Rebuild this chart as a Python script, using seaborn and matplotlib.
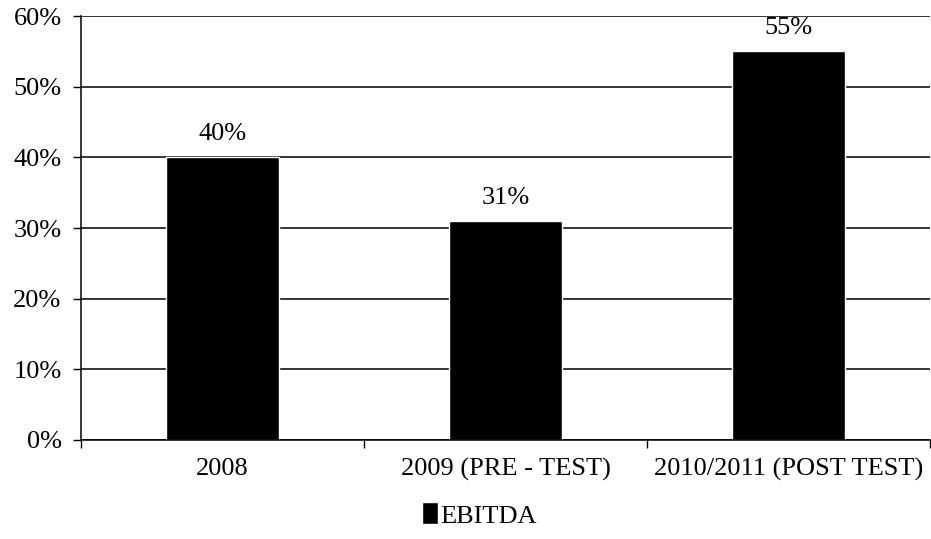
import matplotlib
matplotlib.use("Agg")
import matplotlib.pyplot as plt
import seaborn as sns
import pandas as pd
from matplotlib.ticker import FixedLocator, PercentFormatter

categories = ["2008", "2009 (PRE - TEST)", "2010/2011 (POST TEST)"]
ebitda = [40, 31, 55]
series_name = "EBITDA"
y_ticks = [0, 10, 20, 30, 40, 50, 60]

df = pd.DataFrame({"period": categories, "value": ebitda, "series": series_name})

sns.set_theme(style="white")
plt.rcParams["font.family"] = ["Liberation Serif", "DejaVu Serif"]
FS = 19

fig = plt.figure(figsize=(9.31, 5.39), dpi=100)
ax = fig.add_axes([0.087, 0.1837, 0.912, 0.7863])

sns.barplot(data=df, x="period", y="value", hue="series", palette=["black"],
            width=0.4, ax=ax, legend=True, saturation=1)

ax.set_ylim(0, 60)
ax.set_xlim(-0.5, 2.5)
ax.set_yticks(y_ticks)
ax.yaxis.set_major_formatter(PercentFormatter(decimals=0))
ax.yaxis.grid(True, color="black", linewidth=1.1)
ax.set_axisbelow(True)

for s in ["top", "right"]:
    ax.spines[s].set_visible(False)
for s in ["left", "bottom"]:
    ax.spines[s].set_color("black")
    ax.spines[s].set_linewidth(1.1)

ax.set_xlabel("")
ax.set_ylabel("")
ax.tick_params(axis="y", which="major", direction="out", length=6, width=1,
               color="black", labelsize=FS, pad=8, left=True, labelcolor="black")
ax.tick_params(axis="x", which="major", length=0, labelsize=FS, pad=13,
               labelcolor="black")
ax.xaxis.set_minor_locator(FixedLocator([-0.5, 0.5, 1.5, 2.5]))
ax.tick_params(axis="x", which="minor", direction="out", length=6, width=1,
               color="black", bottom=True)

for c in ax.containers:
    ax.bar_label(c, labels=[f"{v:g}%" for v in ebitda], padding=9,
                 fontsize=FS, color="black")

leg = ax.legend(loc="center", bbox_to_anchor=(0.515, 0.0445),
                bbox_transform=fig.transFigure, frameon=False, fontsize=FS,
                handlelength=0.6, handleheight=0.9, handletextpad=0.1)
for t in leg.get_texts():
    t.set_color("black")

fig.savefig("out.png", dpi=100)
